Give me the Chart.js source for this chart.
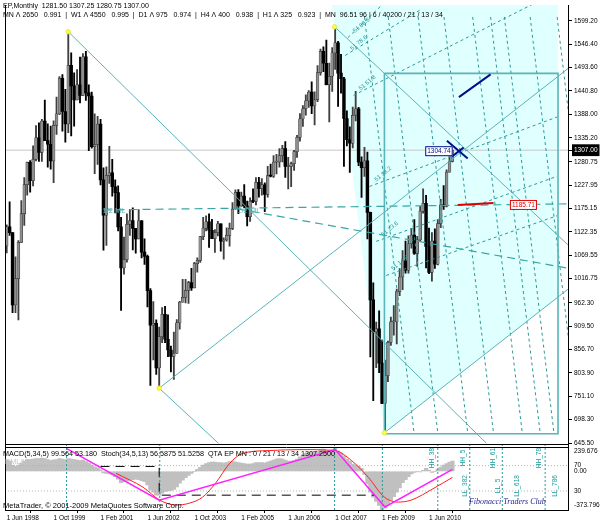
<!DOCTYPE html>
<html>
<head>
<meta charset="utf-8">
<script src="https://cdn.jsdelivr.net/npm/chart.js@4.4.1/dist/chart.umd.min.js"></script>
<style>
html, body { margin: 0; padding: 0; background: #fff; }
canvas { display: block; }
</style>
</head>
<body>
<canvas id="chart" width="600" height="526"></canvas>
<script>
// EP monthly, Jun 1998 .. Feb 2011 (bar index 0 = Jun 1998)
const opens = [
  1090.8, 1133.8, 1120.7, 957.3, 1017.0, 1098.7, 1163.6,
  1229.2, 1279.6, 1238.3, 1286.4, 1335.2, 1301.8, 1372.7, 1328.7, 1320.4, 1282.7, 1362.9, 1388.9,
  1469.3, 1394.5, 1366.4, 1498.6, 1452.4, 1420.6, 1454.6, 1430.8, 1517.7, 1436.5, 1429.4, 1315.0,
  1320.3, 1366.0, 1239.9, 1160.3, 1249.5, 1255.8, 1224.4, 1211.2, 1133.6, 1040.9, 1059.8, 1139.5,
  1148.1, 1130.2, 1106.7, 1147.4, 1076.9, 1067.1, 989.8, 911.6, 916.1, 815.3, 885.8, 936.3,
  879.8, 855.7, 841.2, 848.2, 916.9, 963.6, 974.5, 990.3, 1008.0, 996.0, 1050.7, 1058.2,
  1111.9, 1131.1, 1144.9, 1126.2, 1107.3, 1120.7, 1140.8, 1101.7, 1104.2, 1114.6, 1130.2, 1173.8,
  1211.9, 1181.3, 1203.6, 1180.6, 1156.9, 1191.5, 1191.3, 1234.2, 1220.3, 1228.8, 1207.0, 1249.5,
  1248.3, 1280.1, 1280.7, 1294.9, 1310.6, 1270.1, 1270.2, 1276.7, 1303.8, 1335.9, 1377.9, 1400.6,
  1418.3, 1438.2, 1406.8, 1420.9, 1482.4, 1530.6, 1503.4, 1455.3, 1474.0, 1526.8, 1549.4, 1481.1,
  1468.4, 1378.6, 1330.6, 1322.7, 1385.6, 1400.4, 1280.0, 1267.4, 1282.8, 1166.4, 968.8, 896.2,
  903.3, 825.9, 735.1, 797.9, 872.8, 919.1, 919.3, 987.5, 1020.6, 1057.1, 1036.2, 1095.6,
  1115.1, 1073.9, 1104.5, 1169.4, 1186.7, 1089.4, 1030.7, 1101.6, 1049.3, 1141.2, 1183.3, 1180.6,
  1257.6, 1281.5
];
const highs = [
  1138.5, 1190.6, 1121.1, 1066.1, 1102.6, 1192.9, 1244.9,
  1280.0, 1283.8, 1316.6, 1362.8, 1368.6, 1376.5, 1420.3, 1366.4, 1361.6, 1373.2, 1427.1, 1473.1,
  1478.0, 1444.5, 1574.0, 1527.2, 1481.5, 1488.9, 1517.3, 1525.2, 1530.1, 1454.8, 1438.5, 1389.1,
  1383.4, 1376.5, 1267.4, 1269.3, 1315.9, 1286.6, 1239.8, 1226.3, 1155.4, 1110.6, 1163.4, 1173.6,
  1176.6, 1130.2, 1173.0, 1147.8, 1106.6, 1070.3, 994.5, 965.0, 924.0, 907.4, 951.6, 954.3,
  935.1, 864.6, 895.9, 924.2, 965.4, 1015.3, 1015.4, 1011.0, 1040.3, 1053.8, 1063.7, 1112.6,
  1155.4, 1158.9, 1163.2, 1150.6, 1127.7, 1146.3, 1140.8, 1109.1, 1131.5, 1142.1, 1188.5, 1217.3,
  1217.8, 1212.4, 1229.1, 1191.9, 1199.6, 1219.6, 1245.2, 1245.9, 1243.1, 1233.3, 1270.6, 1275.8,
  1294.9, 1297.6, 1310.9, 1318.2, 1326.7, 1290.7, 1280.4, 1306.7, 1340.3, 1389.5, 1407.9, 1431.8,
  1441.6, 1461.6, 1438.9, 1498.0, 1535.6, 1540.6, 1555.9, 1503.9, 1538.7, 1586.0, 1552.8, 1523.6,
  1471.8, 1396.0, 1359.7, 1404.6, 1440.2, 1404.1, 1292.2, 1313.2, 1303.0, 1167.0, 1007.5, 918.9,
  943.9, 877.9, 832.9, 875.6, 930.2, 956.2, 993.2, 1039.5, 1080.2, 1101.4, 1113.7, 1130.4,
  1150.5, 1112.4, 1180.2, 1219.8, 1205.1, 1131.2, 1120.9, 1129.2, 1150.3, 1196.1, 1227.1, 1262.6,
  1302.7, 1307.25
];
const lows = [
  1074.7, 1114.3, 939.9, 939.9, 923.3, 1098.7, 1136.9,
  1205.5, 1211.9, 1226.2, 1282.8, 1281.4, 1281.4, 1328.7, 1268.4, 1264.0, 1233.7, 1342.6, 1387.4,
  1350.1, 1325.1, 1346.6, 1339.4, 1361.1, 1420.6, 1413.9, 1430.8, 1419.4, 1305.8, 1311.7, 1254.1,
  1274.6, 1228.3, 1081.2, 1091.9, 1232.0, 1203.0, 1165.5, 1124.9, 944.8, 1026.8, 1054.3, 1114.5,
  1081.7, 1074.4, 1106.7, 1063.5, 1048.9, 952.9, 775.7, 833.4, 800.2, 768.6, 872.3, 872.2,
  840.3, 806.3, 788.9, 847.9, 902.8, 963.6, 962.1, 960.8, 990.4, 996.0, 1031.2, 1053.4,
  1105.1, 1124.4, 1087.2, 1107.2, 1076.3, 1113.3, 1078.8, 1060.7, 1101.3, 1090.2, 1127.6, 1173.8,
  1163.8, 1180.0, 1176.9, 1136.2, 1146.2, 1188.3, 1183.6, 1201.1, 1205.4, 1168.2, 1201.1, 1246.6,
  1245.7, 1253.6, 1268.4, 1280.7, 1245.3, 1219.3, 1224.5, 1261.3, 1290.9, 1327.1, 1360.9, 1385.9,
  1403.9, 1389.7, 1363.9, 1416.4, 1476.7, 1484.2, 1454.3, 1370.6, 1439.8, 1489.6, 1406.1, 1435.6,
  1270.1, 1316.8, 1256.9, 1312.0, 1373.1, 1272.0, 1200.4, 1247.5, 1106.4, 839.8, 741.0, 815.7,
  804.2, 734.5, 666.8, 783.9, 866.1, 888.9, 869.3, 978.5, 991.9, 1029.4, 1029.4, 1085.9,
  1071.6, 1044.5, 1101.4, 1165.0, 1040.8, 1028.3, 1010.9, 1039.7, 1048.1, 1131.9, 1173.0, 1179.0,
  1257.6, 1280.75
];
const closes = [
  1133.8, 1120.7, 957.3, 1017.0, 1098.7, 1163.6, 1229.2,
  1279.6, 1238.3, 1286.4, 1335.2, 1301.8, 1372.7, 1328.7, 1320.4, 1282.7, 1362.9, 1388.9, 1469.3,
  1394.5, 1366.4, 1498.6, 1452.4, 1420.6, 1454.6, 1430.8, 1517.7, 1436.5, 1429.4, 1315.0, 1320.3,
  1366.0, 1239.9, 1160.3, 1249.5, 1255.8, 1224.4, 1211.2, 1133.6, 1040.9, 1059.8, 1139.5, 1148.1,
  1130.2, 1106.7, 1147.4, 1076.9, 1067.1, 989.8, 911.6, 916.1, 815.3, 885.8, 936.3, 879.8,
  855.7, 841.2, 848.2, 916.9, 963.6, 974.5, 990.3, 1008.0, 996.0, 1050.7, 1058.2, 1111.9,
  1131.1, 1144.9, 1126.2, 1107.3, 1120.7, 1140.8, 1101.7, 1104.2, 1114.6, 1130.2, 1173.8, 1211.9,
  1181.3, 1203.6, 1180.6, 1156.9, 1191.5, 1191.3, 1234.2, 1220.3, 1228.8, 1207.0, 1249.5, 1248.3,
  1280.1, 1280.7, 1294.9, 1310.6, 1270.1, 1270.2, 1276.7, 1303.8, 1335.9, 1377.9, 1400.6, 1418.3,
  1438.2, 1406.8, 1420.9, 1482.4, 1530.6, 1503.4, 1455.3, 1474.0, 1526.8, 1549.4, 1481.1, 1468.4,
  1378.6, 1330.6, 1322.7, 1385.6, 1400.4, 1280.0, 1267.4, 1282.8, 1166.4, 968.8, 896.2, 903.3,
  825.9, 735.1, 797.9, 872.8, 919.1, 919.3, 987.5, 1020.6, 1057.1, 1036.2, 1095.6, 1115.1,
  1073.9, 1104.5, 1169.4, 1186.7, 1089.4, 1030.7, 1101.6, 1049.3, 1141.2, 1183.3, 1180.6, 1257.6,
  1281.5, 1307.0
];

// MACD(5,34,5) main, one value per bar
const macd = [
  110, 100, 60, 50, 60, 80, 100,
  115, 115, 120, 125, 125, 130, 125, 115, 105, 110, 115, 125,
  120, 115, 125, 120, 115, 110, 105, 110, 95, 80, 60, 45,
  35, 15, -15, -20, -25, -35, -50, -75, -110, -100, -95, -85,
  -80, -75, -80, -90, -100, -130, -180, -200, -230, -230, -210, -195,
  -190, -185, -175, -150, -115, -85, -60, -40, -20, 0, 20, 40,
  60, 75, 85, 90, 90, 85, 85, 80, 85, 95, 100, 90,
  85, 80, 75, 70, 70, 75, 85, 85, 85, 80, 90, 100,
  110, 120, 125, 120, 110, 100, 100, 105, 120, 140, 160, 175,
  185, 190, 190, 195, 210, 215, 205, 200, 210, 225, 200, 180,
  150, 120, 100, 70, 60, 50, 30, -30, -120, -200, -250, -290,
  -330, -370, -355, -320, -280, -245, -200, -160, -110, -80, -50, -25,
  -10, 0, -5, 10, 30, 10, -10, 0, 20, 40, 60, 75,
  90, 100
];

// stochastic signal (red), read at a few bars
const stochIdx = [37.3, 46.5, 52.2, 57.7, 62.4, 66.8, 71.2, 76.0, 80.3, 89.5, 100.7, 111.8, 117.6, 123.3, 128.8, 133.5, 137.9, 145.7, 152];
const stochVal = [57.8, 35.9, 15.6, 7.8, 10.9, 20.3, 42.2, 73.4, 89.0, 93.8, 95.3, 93.8, 78.0, 51.6, 20.3, 12.5, 15.6, 34.4, 51.5];
// zigzag on the oscillator (magenta)
const zigIdx = [20.5, 52, 112, 129, 152];
const zigVal = [96.9, 15.6, 95.3, 4.7, 64.1];
// black dashed step level
const stepIdx = [32, 52, 52, 125.4];
const stepVal = [68.75, 68.75, 23.4, 23.4];
const stochLevels = [70, 30];

const tickIndex = [0, 16, 32, 48, 64, 80, 96, 112, 128, 144];
const tickLabels = ['1 Jun 1998', '1 Oct 1999', '1 Feb 2001', '1 Jun 2002', '1 Oct 2003', '1 Feb 2005', '1 Jun 2006', '1 Oct 2007', '1 Feb 2009', '1 Jun 2010'];
const priceTicks = [645.50, 698.30, 751.10, 803.90, 856.70, 909.50, 962.30, 1016.75, 1069.55, 1122.35, 1175.15, 1227.95, 1280.75, 1307.00, 1335.20, 1388.00, 1440.80, 1493.60, 1546.40, 1599.20];
const lastPrice = 1307.00;
const macdTicks = [191.75, 0, -325.9];
const macdTickLabels = ['239.676', '0.00', '-373.796'];

// drawn objects, [bar index, price]
const pivots = [[21, 1574.6], [52, 769.3], [111.8, 1585.8], [128.8, 668.6]];
const fanArea = [[110.9, 1635], [188, 1635], [188, 975.3], [128.8, 668.6]];
const boxRect = [[128.8, 1480.6], [188, 1480.6], [188, 666.4], [128.8, 666.4], [128.8, 1480.6]];
const lineA = [[21, 1574.6], [163.5, 645.5]];
const lineB = [[52, 769.3], [191.4, 1491.4]];
const lineB2 = [[52, 769.3], [72.2, 645]];
const lineD = [[128.8, 668.6], [191.4, 992.9]];
const lineC = [[111.8, 1585.8], [191.4, 1093.1]];
const medianA = [[33, 1172], [191.4, 1185.7]];
const medianB = [[79, 1174], [191.4, 1040.4]];
const timeTop = [122.0, 130.1, 140.3, 149.1, 158.9, 165.0, 169.7, 178.5, 187.7];
const timeBottom = [138.9, 147.0, 157.2, 166.0, 175.8, 181.9, 186.6, 195.4, 204.5];
const arcLines = [
  [[116.3, 1561], [127.8, 1634]],
  [[115.4, 1521], [141.3, 1625]],
  [[118.3, 1431], [187.7, 1665]],
  [[123.7, 1225], [187.7, 1382]],
  [[126.0, 1101], [187.7, 1248]],
  [[129.4, 1024], [187.7, 1159]]
];
const arcLabels = ['51 88.6', '51 78.6', '51 61.8', '51 38.2', '51 23.6', '51 14.6'];
const blueTrend = [[154.2, 1426.9], [165.0, 1478.3]];
const blueCross1 = [[150.1, 1328.5], [157.2, 1288.2]];
const blueCross2 = [[151.8, 1292.7], [155.8, 1312.8]];
const redTrend = [[153.8, 1183.3], [166.0, 1187.8]];
const hhIndex = [145, 155.5, 166, 181.6];
const hhLabels = ['HH_38', 'HH_5', 'HH_61', 'HH_78'];
const llIndex = [156.5, 167.7, 174.1, 187];
const llLabels = ['LL_382', 'LL_5', 'LL_618', 'LL_786'];
const vLineIndex = [20.4, 52.2, 111.8, 128.1, 147.0, 157.9, 169.0, 183.6];

const FONT = '"Liberation Sans", Arial, sans-serif';
const TEAL = '#58b4b8';
const TEAL_DARK = '#2a9a9a';

const bars = opens.map((o, i) => i);
const up = bars.map(i => closes[i] >= opens[i]);

function seg(pts, color, width, dash, axis, order) {
  return {
    type: 'line',
    data: pts.map(p => ({ x: p[0], y: p[1] })),
    borderColor: color,
    borderWidth: width,
    borderDash: dash || [],
    pointRadius: 0,
    fill: false,
    tension: 0,
    yAxisID: axis || 'y',
    order: order || 2
  };
}

const datasets = [
  {
    type: 'line',
    data: fanArea.map(p => ({ x: p[0], y: p[1] })),
    borderWidth: 0,
    borderColor: 'rgba(0,0,0,0)',
    backgroundColor: '#e0ffff',
    fill: 'shape',
    pointRadius: 0,
    yAxisID: 'y',
    order: 30
  },
  seg([[-0.6, lastPrice], [191.4, lastPrice]], '#c8c8c8', 1, null, 'y', 25),
  {
    type: 'bar',
    data: bars.map(i => ({ x: i, y: [lows[i], highs[i]] })),
    backgroundColor: bars.map(i => up[i] ? '#404040' : '#000000'),
    barThickness: 1.2,
    grouped: false,
    yAxisID: 'y',
    order: 11
  },
  {
    type: 'bar',
    data: bars.map(i => ({ x: i, y: [opens[i], closes[i]] })),
    backgroundColor: bars.map(i => up[i] ? '#8e8e8e' : '#000000'),
    borderColor: '#202020',
    borderWidth: bars.map(i => up[i] ? 0.5 : 0),
    borderSkipped: false,
    barThickness: 2.8,
    minBarLength: 1,
    grouped: false,
    yAxisID: 'y',
    order: 10
  },
  {
    type: 'bar',
    data: bars.map(i => ({ x: i, y: macd[i] })),
    backgroundColor: '#c0c0c0',
    barThickness: 3.6,
    grouped: false,
    yAxisID: 'y2',
    order: 20
  },
  seg(boxRect, TEAL, 1.6, null, 'y', 6),
  seg(lineA, TEAL, 1, null, 'y', 5),
  seg(lineB, TEAL, 1, null, 'y', 5),
  seg(lineB2, TEAL, 1, null, 'y', 5),
  seg(lineD, TEAL, 1, null, 'y', 5),
  seg(lineC, TEAL, 1, null, 'y', 5),
  seg(medianA, '#3aa6a6', 1.2, [8, 5], 'y', 5),
  seg(medianB, '#3aa6a6', 1.2, [8, 5], 'y', 5),
  ...timeTop.map((t, k) => seg([[t, 1608], [timeBottom[k], 668.6]], TEAL_DARK, 1, [3, 3], 'y', 7)),
  ...arcLines.map(a => seg(a, TEAL_DARK, 1, [3, 3], 'y', 7)),
  seg(blueTrend, '#00108a', 2, null, 'y', 1),
  seg(blueCross1, '#00108a', 2, null, 'y', 1),
  seg(blueCross2, '#00108a', 2, null, 'y', 1),
  seg(redTrend, '#e00000', 2, null, 'y', 1),
  {
    type: 'scatter',
    data: pivots.map(p => ({ x: p[0], y: p[1] })),
    pointRadius: 2.2,
    pointBackgroundColor: '#ffff40',
    pointBorderColor: '#e8e840',
    showLine: false,
    yAxisID: 'y',
    order: 0
  },
  ...stochLevels.map(v => seg([[-0.6, v], [191.4, v]], '#b0b0b0', 1, [1, 2], 'y3', 19)),
  ...vLineIndex.map(v => seg([[v, 0], [v, 103]], TEAL_DARK, 1, [2, 2], 'y3', 18)),
  seg(stepIdx.map((v, k) => [v, stepVal[k]]), '#000000', 1, [9, 6], 'y3', 4),
  {
    type: 'line',
    data: stochIdx.map((v, k) => ({ x: v, y: stochVal[k] })),
    borderColor: '#ff2020',
    borderWidth: 1,
    pointRadius: 0,
    cubicInterpolationMode: 'monotone',
    yAxisID: 'y3',
    order: 3
  },
  seg(zigIdx.map((v, k) => [v, zigVal[k]]), '#ff20ff', 1.5, null, 'y3', 2)
];

function label(ctx, s, x, y, color, size, align, rot, italic) {
  ctx.save();
  ctx.translate(x, y);
  if (rot) ctx.rotate(rot);
  ctx.font = (italic ? 'italic ' : '') + size + 'px ' + (italic ? '"Liberation Serif", serif' : FONT);
  ctx.fillStyle = color;
  ctx.textAlign = align || 'left';
  ctx.textBaseline = 'middle';
  ctx.fillText(s, 0, 0);
  ctx.restore();
}

const paint = {
  id: 'paint',
  beforeDraw(chart) {
    const c = chart.ctx;
    c.save();
    c.fillStyle = '#ffffff';
    c.fillRect(0, 0, chart.width, chart.height);
    c.restore();
  },
  afterDraw(chart) {
    const c = chart.ctx;
    const x = chart.scales.x, y = chart.scales.y, y2 = chart.scales.y2, y3 = chart.scales.y3;
    const area = chart.chartArea;

    // panel frames
    c.save();
    c.strokeStyle = '#000';
    c.lineWidth = 1;
    c.beginPath();
    c.moveTo(area.left + 0.5, area.top);
    c.lineTo(area.left + 0.5, area.bottom);
    c.moveTo(area.left, Math.round(y.bottom) - 0.5);
    c.lineTo(area.right, Math.round(y.bottom) - 0.5);
    c.moveTo(area.left, Math.round(y2.top) + 2.5);
    c.lineTo(area.right, Math.round(y2.top) + 2.5);
    c.stroke();
    c.restore();

    label(c, 'EP,Monthly  1281.50 1307.25 1280.75 1307.00', 3, 6, '#000', 7);
    label(c, 'MN \u039b 2650   0.991  |  W1 \u039b 4550   0.995  |  D1 \u039b 975   0.974  |  H4 \u039b 400   0.938  |  H1 \u039b 325   0.923  |  MN  96.51 96 | 6 / 40200 / 21 / 13 / 34', 3, 15, '#000', 7);

    label(c, '1/2 ML', x.getPixelForValue(33) - 1, y.getPixelForValue(1170), '#5fb4b4', 7.5);
    label(c, '1/2 ML', x.getPixelForValue(79) - 1, y.getPixelForValue(1170), '#5fb4b4', 7.5);

    arcLines.forEach((a, k) => {
      const px = x.getPixelForValue(a[0][0]) + 6;
      const py = y.getPixelForValue(a[0][1]) - 6;
      label(c, arcLabels[k], px, py, TEAL_DARK, 6, 'left', -0.7);
    });

    // price tags
    const tag = (s, i, p, color) => {
      const px = x.getPixelForValue(i), py = y.getPixelForValue(p);
      c.save();
      c.font = '6.5px ' + FONT;
      const w = c.measureText(s).width + 4;
      c.fillStyle = '#fff';
      c.fillRect(px - w / 2, py - 5, w, 10);
      c.strokeStyle = color;
      c.strokeRect(px - w / 2 + 0.5, py - 4.5, w - 1, 9);
      c.restore();
      label(c, s, px, py, color, 6.5, 'center');
    };
    tag('1304.74', 147.4, 1304.74, '#00108a');
    tag('1185.71', 176.2, 1183.3, '#e00000');

    // indicator captions
    label(c, 'MACD(5,34,5) 99.564 53.180  Stoch(34,5,13) 56.5875 51.5258  QTA EP MN : 0 / 21 / 13 / 34 1307.2500', 3, y2.top + 9, '#000', 7.2);
    label(c, 'DML&EWA technique', 5, y2.top + 17, '#c4c4c4', 7.2);
    label(c, 'MetaTrader, \u00a9 2001-2009 MetaQuotes Software Corp.', 3, y2.bottom - 4, '#000', 7.5);
    label(c, 'Fibonacci Traders Club', x.getPixelForValue(157.6), y2.bottom - 8, '#1c1c8c', 8, 'left', 0, true);
    hhIndex.forEach((v, k) => label(c, hhLabels[k], x.getPixelForValue(v), y3.getPixelForValue(82), '#1a9a9a', 6.5, 'center', -Math.PI / 2));
    llIndex.forEach((v, k) => label(c, llLabels[k], x.getPixelForValue(v), y3.getPixelForValue(38), '#1a9a9a', 6.5, 'center', -Math.PI / 2));
    stochLevels.forEach(v => label(c, String(v), area.right + 6, y3.getPixelForValue(v), '#000', 6.5));
  }
};

const noPad = s => { s.paddingTop = 0; s.paddingBottom = 0; s.paddingLeft = 0; s.paddingRight = 0; };

new Chart(document.getElementById('chart'), {
  type: 'bar',
  data: { datasets },
  options: {
    responsive: false,
    animation: false,
    devicePixelRatio: 1,
    events: [],
    layout: { padding: { left: 1, right: 0, top: 0, bottom: 0 } },
    plugins: { legend: { display: false }, tooltip: { enabled: false } },
    scales: {
      x: {
        type: 'linear', min: -0.576, max: 191.4, offset: false,
        grid: { drawOnChartArea: false, tickLength: 3, color: '#000' },
        border: { color: '#000' },
        ticks: {
          autoSkip: false, maxRotation: 0, align: 'start', padding: 1, color: '#000',
          font: { family: FONT, size: 6.5 },
          callback: v => { const k = tickIndex.indexOf(v); return k >= 0 ? tickLabels[k] : ''; }
        },
        afterBuildTicks: s => { s.ticks = tickIndex.map(v => ({ value: v })); },
        afterFit: s => { noPad(s); s.height = 16; }
      },
      y: {
        type: 'linear', position: 'right', stack: 'panes', stackWeight: 444,
        min: 641.8, max: 1635.0,
        grid: { drawOnChartArea: false, tickLength: 4, color: '#000' },
        border: { color: '#000' },
        ticks: {
          autoSkip: false, padding: 2, font: { family: FONT, size: 6.5 },
          color: c => c.tick && c.tick.value === lastPrice ? '#ffffff' : '#000000',
          showLabelBackdrop: c => !!(c.tick && c.tick.value === lastPrice),
          backdropColor: '#000000', backdropPadding: { x: 2, y: 2 },
          callback: v => Number(v).toFixed(2)
        },
        afterBuildTicks: s => { s.ticks = priceTicks.map(v => ({ value: v })); },
        afterFit: s => { noPad(s); s.width = 32; }
      },
      y2: {
        type: 'linear', position: 'right', stack: 'panes', stackWeight: 66,
        min: -373.796, max: 258.85,
        grid: { drawOnChartArea: false, drawTicks: false },
        border: { color: '#000' },
        ticks: {
          autoSkip: false, padding: 6, color: '#000', font: { family: FONT, size: 6.5 },
          callback: (v, k) => macdTickLabels[k]
        },
        afterBuildTicks: s => { s.ticks = macdTicks.map(v => ({ value: v })); },
        afterFit: s => { noPad(s); s.width = 32; }
      },
      y4: {
        display: false, position: 'right', stack: 'panes2', stackWeight: 444, min: 0, max: 1,
        afterFit: s => { noPad(s); s.width = 0; }
      },
      y3: {
        display: false, position: 'right', stack: 'panes2', stackWeight: 66, min: 0, max: 103.125,
        afterFit: s => { noPad(s); s.width = 0; }
      }
    }
  },
  plugins: [paint]
});
</script>
</body>
</html>
